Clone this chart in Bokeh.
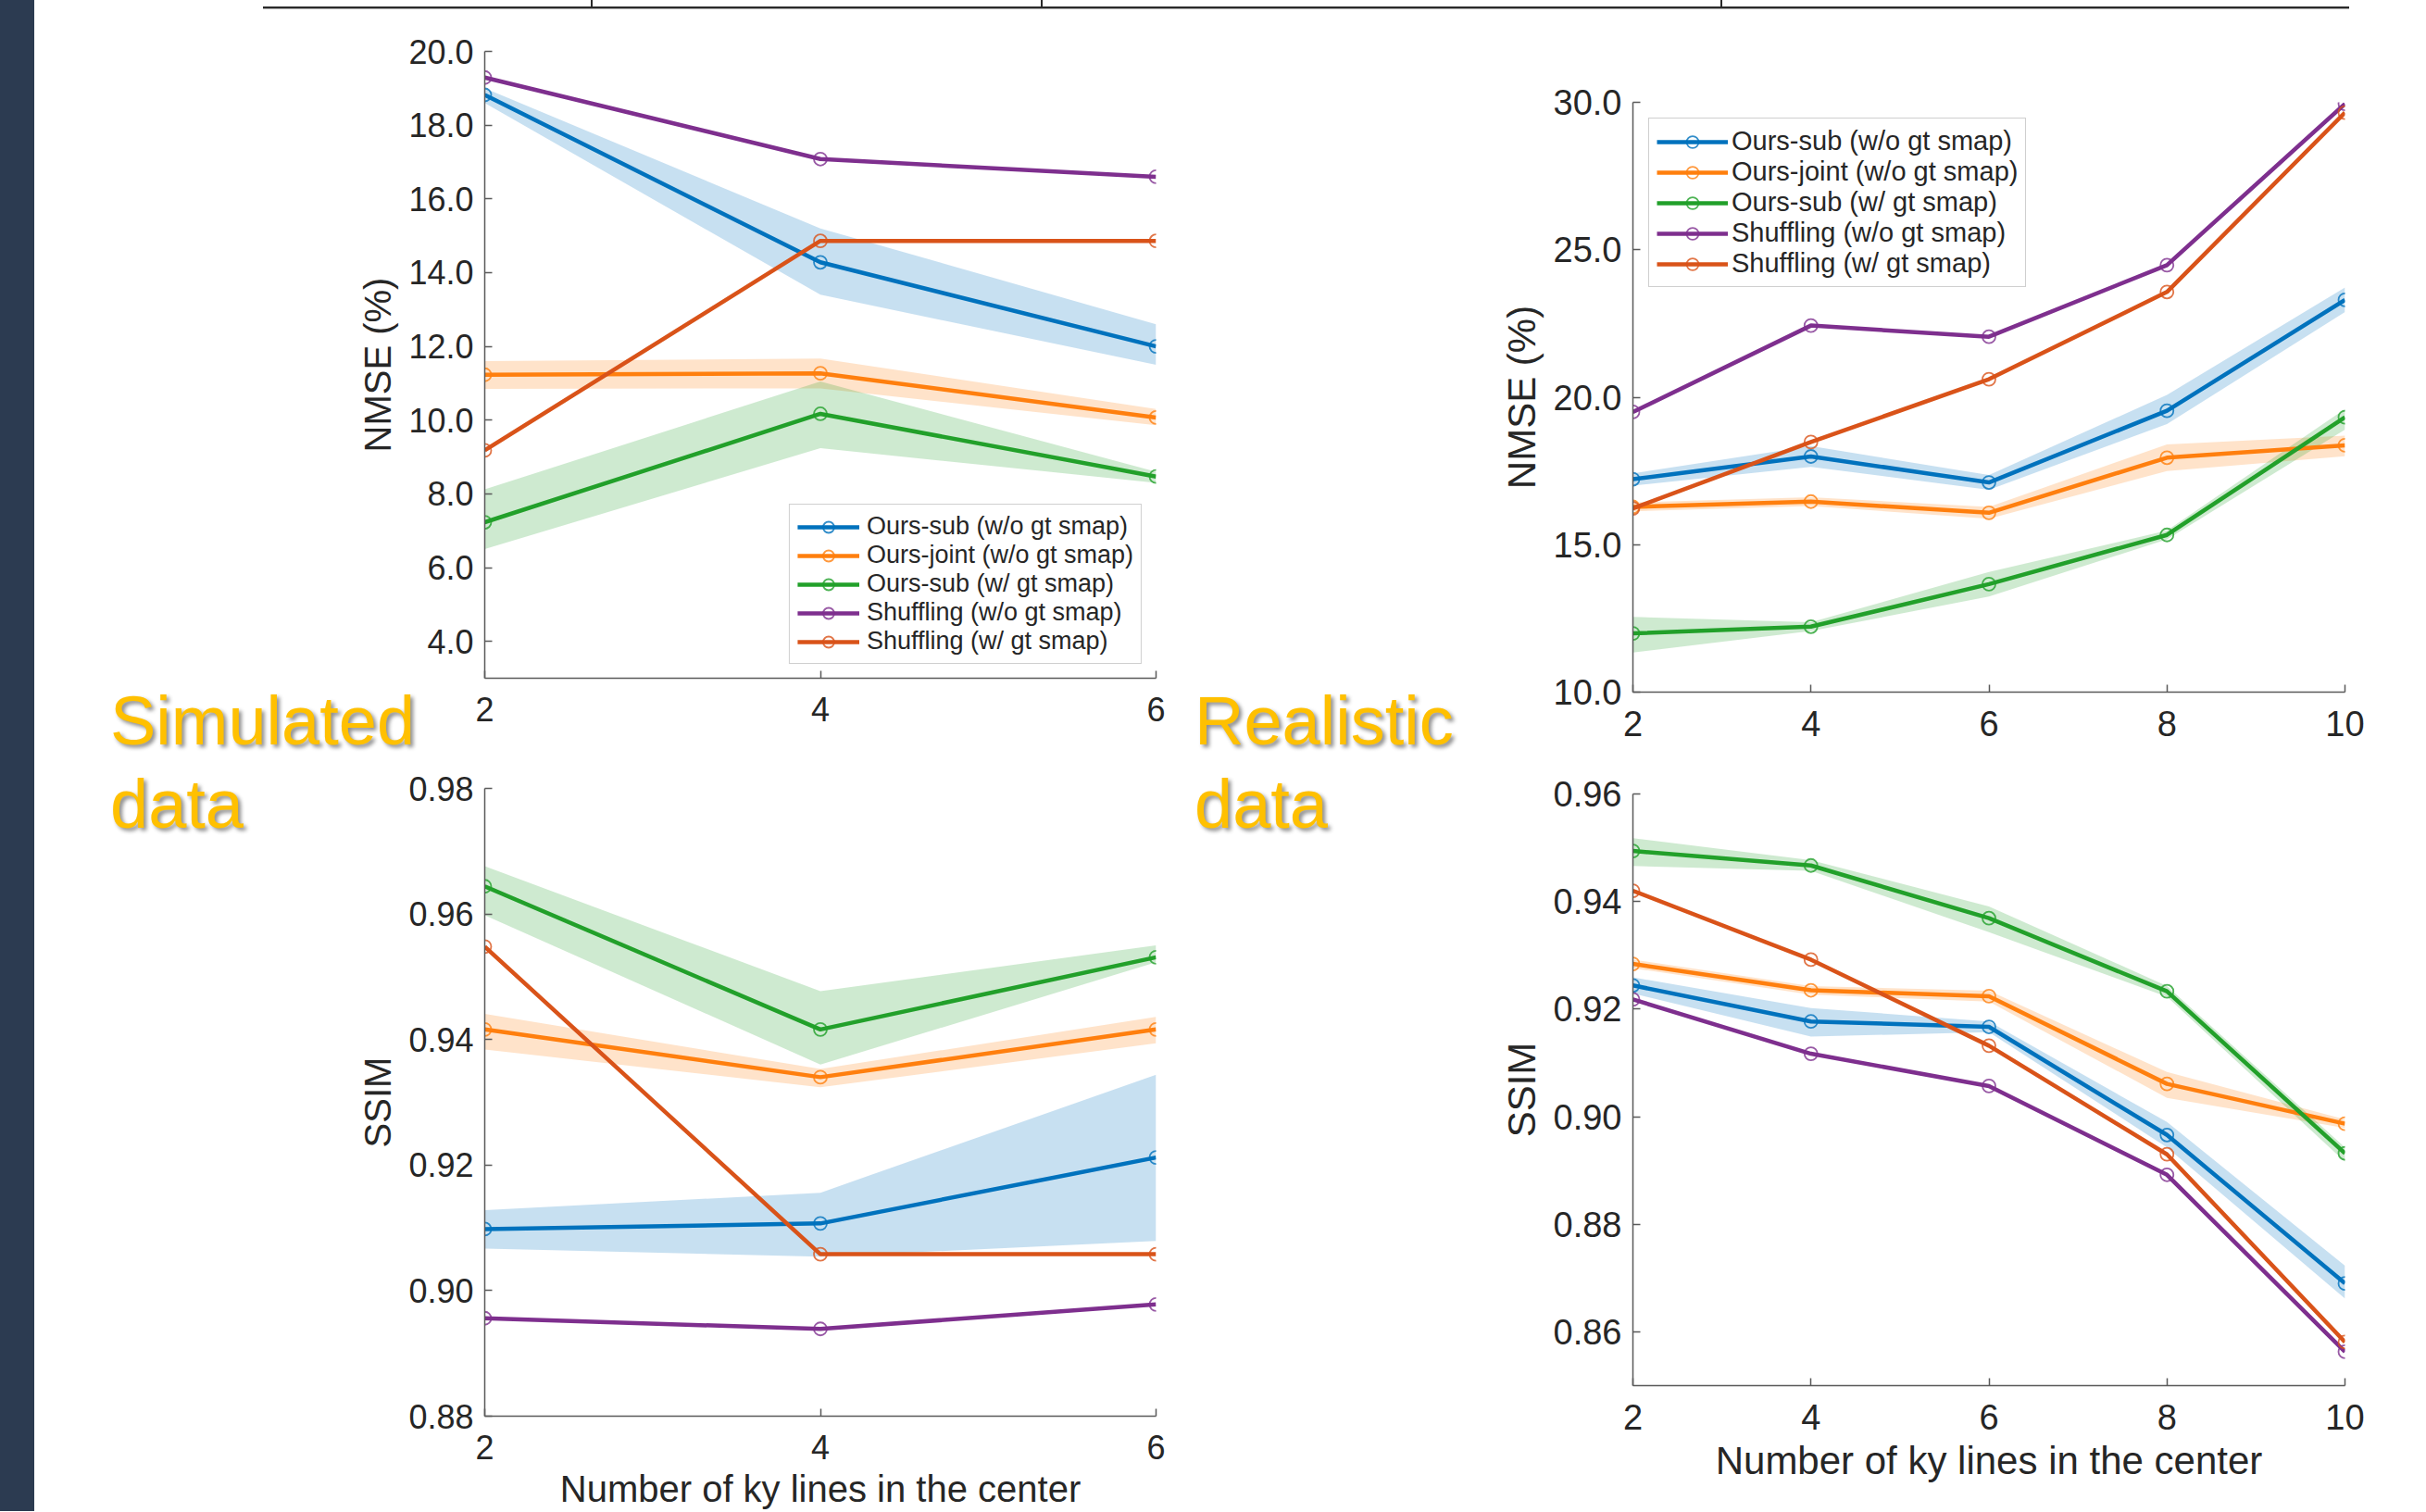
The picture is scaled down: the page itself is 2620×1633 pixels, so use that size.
from bokeh.plotting import figure
from bokeh.layouts import row, column
from bokeh.models import Range1d, FixedTicker, NumeralTickFormatter, Legend, LegendItem, Div
from bokeh.embed import file_html
from bokeh.resources import INLINE

# ---------------- data ----------------
series_names = ["Ours-sub (w/o gt smap)", "Ours-joint (w/o gt smap)", "Ours-sub (w/ gt smap)",
                "Shuffling (w/o gt smap)", "Shuffling (w/ gt smap)"]

sim_x = [2, 4, 6]
real_x = [2, 4, 6, 8, 10]

# Simulated data - NMSE (%)
sim_nmse_sub_wo = [18.82, 14.28, 12.00]
sim_nmse_sub_wo_lo = [18.60, 13.40, 11.50]
sim_nmse_sub_wo_hi = [19.00, 15.20, 12.60]
sim_nmse_joint_wo = [11.23, 11.27, 10.07]
sim_nmse_joint_wo_lo = [10.85, 10.86, 9.86]
sim_nmse_joint_wo_hi = [11.60, 11.67, 10.30]
sim_nmse_sub_w = [7.23, 10.17, 8.47]
sim_nmse_sub_w_lo = [6.50, 9.24, 8.30]
sim_nmse_sub_w_hi = [8.12, 11.05, 8.60]
sim_nmse_shuf_wo = [19.29, 17.08, 16.60]
sim_nmse_shuf_w = [9.18, 14.86, 14.86]

# Realistic data - NMSE (%)
real_nmse_sub_wo = [17.22, 17.99, 17.11, 19.54, 23.30]
real_nmse_sub_wo_lo = [17.00, 17.64, 16.86, 19.09, 22.89]
real_nmse_sub_wo_hi = [17.42, 18.34, 17.36, 20.08, 23.72]
real_nmse_joint_wo = [16.28, 16.46, 16.08, 17.95, 18.37]
real_nmse_joint_wo_lo = [16.13, 16.31, 15.88, 17.50, 18.00]
real_nmse_joint_wo_hi = [16.43, 16.61, 16.28, 18.40, 18.70]
real_nmse_sub_w = [11.99, 12.22, 13.66, 15.33, 19.32]
real_nmse_sub_w_lo = [11.34, 12.07, 13.24, 15.18, 18.90]
real_nmse_sub_w_hi = [12.55, 12.37, 14.07, 15.48, 19.60]
real_nmse_shuf_wo = [19.50, 22.43, 22.05, 24.48, 29.95]
real_nmse_shuf_w = [16.23, 18.48, 20.61, 23.57, 29.65]

# Simulated data - SSIM
sim_ssim_sub_wo = [0.9098, 0.9107, 0.9212]
sim_ssim_sub_wo_lo = [0.9067, 0.9054, 0.9079]
sim_ssim_sub_wo_hi = [0.9128, 0.9156, 0.9344]
sim_ssim_joint_wo = [0.9416, 0.9340, 0.9416]
sim_ssim_joint_wo_lo = [0.9384, 0.9324, 0.9394]
sim_ssim_joint_wo_hi = [0.9441, 0.9353, 0.9436]
sim_ssim_sub_w = [0.9644, 0.9416, 0.9531]
sim_ssim_sub_w_lo = [0.9598, 0.9360, 0.9523]
sim_ssim_sub_w_hi = [0.9676, 0.9477, 0.9550]
sim_ssim_shuf_wo = [0.8956, 0.8939, 0.8978]
sim_ssim_shuf_w = [0.9548, 0.9058, 0.9058]

# Realistic data - SSIM
real_ssim_sub_wo = [0.9244, 0.9177, 0.9167, 0.8966, 0.8690]
real_ssim_sub_wo_lo = [0.9229, 0.9149, 0.9157, 0.8943, 0.8662]
real_ssim_sub_wo_hi = [0.9259, 0.9202, 0.9177, 0.8990, 0.8723]
real_ssim_joint_wo = [0.9284, 0.9235, 0.9224, 0.9061, 0.8987]
real_ssim_joint_wo_lo = [0.9276, 0.9227, 0.9214, 0.9035, 0.8979]
real_ssim_joint_wo_hi = [0.9292, 0.9243, 0.9234, 0.9083, 0.8995]
real_ssim_sub_w = [0.9494, 0.9467, 0.9369, 0.9233, 0.8932]
real_ssim_sub_w_lo = [0.9466, 0.9457, 0.9343, 0.9223, 0.8916]
real_ssim_sub_w_hi = [0.9518, 0.9477, 0.9391, 0.9243, 0.8943]
real_ssim_shuf_wo = [0.9218, 0.9117, 0.9057, 0.8892, 0.8563]
real_ssim_shuf_w = [0.9420, 0.9292, 0.9132, 0.8930, 0.8581]

sim_xticks = [2, 4, 6]
real_xticks = [2, 4, 6, 8, 10]
sim_nmse_yticks = [4, 6, 8, 10, 12, 14, 16, 18, 20]
real_nmse_yticks = [10, 15, 20, 25, 30]
sim_ssim_yticks = [0.88, 0.90, 0.92, 0.94, 0.96, 0.98]
real_ssim_yticks = [0.86, 0.88, 0.90, 0.92, 0.94, 0.96]

x_label = "Number of ky lines in the center"
captions = [("Simulated", "data"), ("Realistic", "data")]

# ---------------- style ----------------
FONT = "Liberation Sans"
TEXT = "#262626"
AXIS = "#5a5a5a"
COLORS = ["#0072BD", "#FF7F0E", "#22A02A", "#7E2F8E", "#D95319"]
GOLD = "#FFC000"


def make_panel(x, ys, bands, xr, yr, xticks, yticks, yfmt, ylabel, xlabel,
               w, h, bl, br, bt, bb, tick_fs, lab_fs, xlab_standoff=0, legend_cfg=None):
    p = figure(width=w, height=h, x_range=Range1d(*xr), y_range=Range1d(*yr),
               output_backend="svg", toolbar_location=None,
               min_border_left=bl, min_border_right=br, min_border_top=bt, min_border_bottom=bb)
    p.outline_line_color = None
    p.grid.visible = False
    p.background_fill_color = "white"
    p.border_fill_color = "white"
    for ax in (p.xaxis[0], p.yaxis[0]):
        ax.axis_line_color = AXIS
        ax.axis_line_width = 1.5
        ax.major_tick_line_color = AXIS
        ax.major_tick_line_width = 1.5
        ax.major_tick_in = 8
        ax.major_tick_out = 0
        ax.minor_tick_line_color = None
        ax.major_label_text_font = FONT
        ax.major_label_text_font_size = f"{tick_fs}px"
        ax.major_label_text_color = TEXT
        ax.axis_label_text_font = FONT
        ax.axis_label_text_font_size = f"{lab_fs}px"
        ax.axis_label_text_font_style = "normal"
        ax.axis_label_text_color = TEXT
    p.xaxis.major_label_standoff = 20
    p.yaxis.major_label_standoff = 12
    p.xaxis.ticker = FixedTicker(ticks=xticks)
    p.yaxis.ticker = FixedTicker(ticks=yticks)
    p.yaxis.formatter = NumeralTickFormatter(format=yfmt)
    p.yaxis.axis_label = ylabel
    p.yaxis.axis_label_standoff = 8
    if xlabel:
        p.xaxis.axis_label = xlabel
        p.xaxis.axis_label_standoff = xlab_standoff

    for i, (lo, hi) in bands.items():
        p.varea(x=x, y1=lo, y2=hi, fill_color=COLORS[i], fill_alpha=0.22)
    items = []
    for i, y in enumerate(ys):
        ln = p.line(x, y, line_color=COLORS[i], line_width=4.5)
        sc = p.scatter(x, y, marker="circle", size=14, fill_color=None,
                       line_color=COLORS[i], line_width=1.8, line_alpha=0.8)
        items.append(LegendItem(label=series_names[i], renderers=[ln, sc]))
    if legend_cfg:
        lg = Legend(items=items, location=legend_cfg["loc"], margin=legend_cfg["margin"])
        lg.label_text_font = FONT
        lg.label_text_font_size = f"{legend_cfg['fs']}px"
        lg.label_text_color = TEXT
        lg.glyph_width = legend_cfg["gw"]
        lg.glyph_height = legend_cfg["gh"]
        lg.label_height = legend_cfg["gh"]
        lg.spacing = 0
        lg.padding = 8
        lg.label_standoff = legend_cfg["so"]
        lg.border_line_color = "#a0a0a0"
        lg.border_line_width = 1.5
        lg.background_fill_color = "white"
        lg.background_fill_alpha = 1.0
        p.add_layout(lg)
    return p


def caption_div(lines, left, top):
    html = ('<div style="font-family:\'Liberation Sans\';font-size:74px;line-height:90px;color:%s;'
            'text-shadow:3px 3px 4px rgba(0,0,0,0.45);white-space:nowrap">%s</div>'
            % (GOLD, "<br>".join(lines)))
    return Div(text=html, width=360, height=190, margin=0,
               styles={"position": "absolute", "left": f"{left}px", "top": f"{top}px", "z-index": "10"})


# ---------------- panels ----------------
sim_xr = (2, 6)
real_xr = (2, 10)

tl = make_panel(sim_x,
                [sim_nmse_sub_wo, sim_nmse_joint_wo, sim_nmse_sub_w, sim_nmse_shuf_wo, sim_nmse_shuf_w],
                {0: (sim_nmse_sub_wo_lo, sim_nmse_sub_wo_hi), 1: (sim_nmse_joint_wo_lo, sim_nmse_joint_wo_hi),
                 2: (sim_nmse_sub_w_lo, sim_nmse_sub_w_hi)},
                sim_xr, (3, 20), sim_xticks, sim_nmse_yticks, "0.0", "NMSE (%)", None,
                1243, 809, 486, 32, 44, 88, 36, 40,
                legend_cfg={"loc": "bottom_right", "margin": 15, "fs": 27, "gh": 30, "gw": 67, "so": 8})

tr = make_panel(real_x,
                [real_nmse_sub_wo, real_nmse_joint_wo, real_nmse_sub_w, real_nmse_shuf_wo, real_nmse_shuf_w],
                {0: (real_nmse_sub_wo_lo, real_nmse_sub_wo_hi), 1: (real_nmse_joint_wo_lo, real_nmse_joint_wo_hi),
                 2: (real_nmse_sub_w_lo, real_nmse_sub_w_hi)},
                real_xr, (10, 30), real_xticks, real_nmse_yticks, "0.0", "NMSE (%)", None,
                1340, 809, 483, 88, 99, 73, 38, 42,
                legend_cfg={"loc": "top_left", "margin": 17, "fs": 29, "gh": 32, "gw": 77, "so": 4})

bl = make_panel(sim_x,
                [sim_ssim_sub_wo, sim_ssim_joint_wo, sim_ssim_sub_w, sim_ssim_shuf_wo, sim_ssim_shuf_w],
                {0: (sim_ssim_sub_wo_lo, sim_ssim_sub_wo_hi), 1: (sim_ssim_joint_wo_lo, sim_ssim_joint_wo_hi),
                 2: (sim_ssim_sub_w_lo, sim_ssim_sub_w_hi)},
                sim_xr, (0.88, 0.98), sim_xticks, sim_ssim_yticks, "0.00", "SSIM", x_label,
                1243, 812, 486, 32, 31, 103, 36, 40, xlab_standoff=7)

br = make_panel(real_x,
                [real_ssim_sub_wo, real_ssim_joint_wo, real_ssim_sub_w, real_ssim_shuf_wo, real_ssim_shuf_w],
                {0: (real_ssim_sub_wo_lo, real_ssim_sub_wo_hi), 1: (real_ssim_joint_wo_lo, real_ssim_joint_wo_hi),
                 2: (real_ssim_sub_w_lo, real_ssim_sub_w_hi)},
                real_xr, (0.85, 0.96), real_xticks, real_ssim_yticks, "0.00", "SSIM", x_label,
                1340, 812, 483, 88, 37, 136, 38, 42, xlab_standoff=7)

# ---------------- page decoration & layout ----------------
strip = Div(text='<div style="width:37px;height:1632px;background:#2c3b51"></div>',
            width=37, height=1632, margin=0)
dark = "linear-gradient(#2a2a2a,#2a2a2a)"
grey = "linear-gradient(#a8a8a8,#a8a8a8)"
rule = Div(text="", width=2583, height=11, margin=0, styles={
    "background-image": ", ".join([dark, grey, dark, dark, dark]),
    "background-size": "2253px 2px, 2253px 1px, 2px 8px, 2px 8px, 2px 8px",
    "background-position": "247px 7px, 247px 9px, 601px 0px, 1087px 0px, 1821px 0px",
    "background-repeat": "no-repeat",
})

sim_caption = caption_div(captions[0], 119, 734)
real_caption = caption_div(captions[1], 1290, 734)

col_left = column(tl, bl, spacing=0)
col_right = column(tr, br, spacing=0)
page = row(strip, column(rule, row(col_left, col_right, spacing=0), spacing=0),
           sim_caption, real_caption, spacing=0)

open("out.html", "w").write(file_html(page, INLINE))
